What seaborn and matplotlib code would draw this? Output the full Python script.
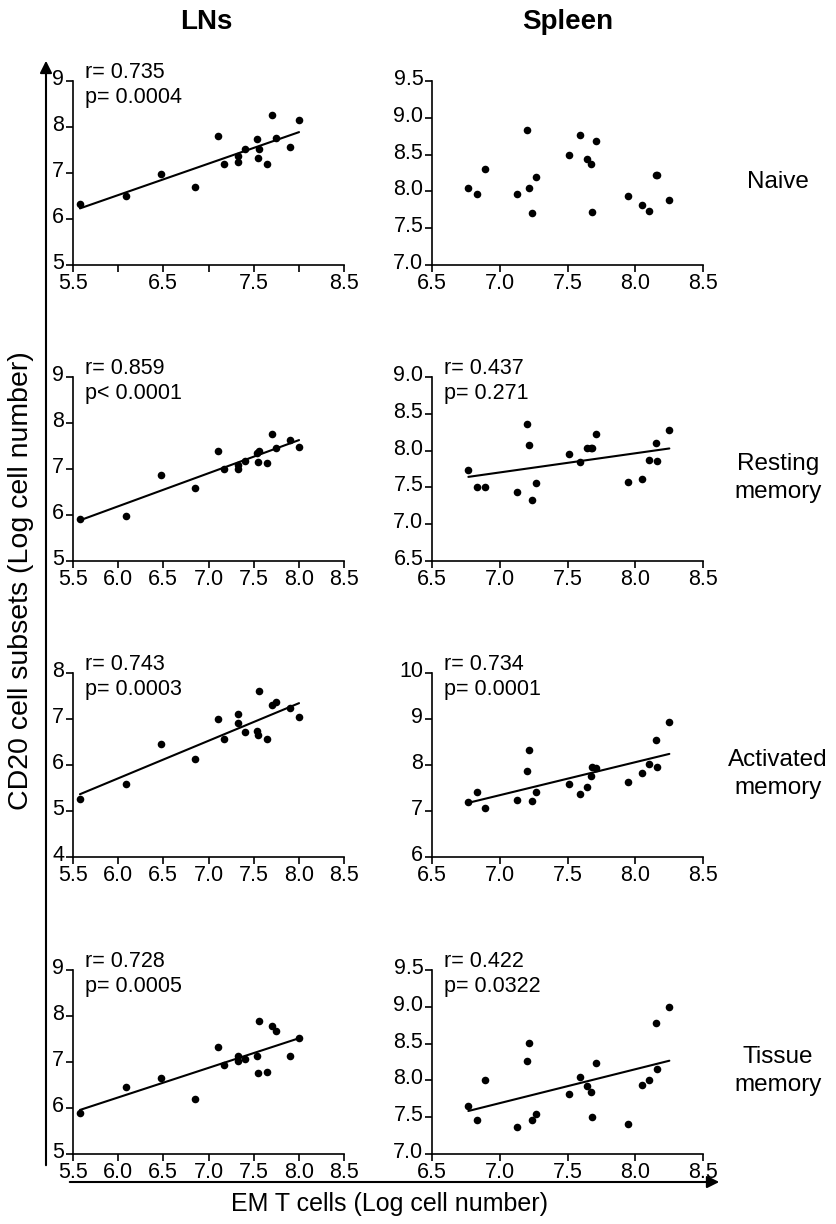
import numpy as np
import pandas as pd
import matplotlib
matplotlib.use("Agg")
import matplotlib.pyplot as plt
import matplotlib.transforms as mtransforms
import seaborn as sns

# ---------------- data ----------------
ln_x = [5.58, 6.085, 6.48, 6.85, 7.11, 7.17, 7.33, 7.33, 7.40, 7.54, 7.55, 7.56,
        7.65, 7.70, 7.75, 7.90, 8.00]
ln_naive = [6.33, 6.51, 6.97, 6.70, 7.80, 7.20, 7.36, 7.25, 7.53, 7.73, 7.32, 7.52,
            7.20, 8.27, 7.77, 7.57, 8.16]
ln_resting = [5.91, 5.97, 6.88, 6.59, 7.39, 7.00, 7.08, 7.00, 7.17, 7.35, 7.15, 7.40,
              7.12, 7.75, 7.45, 7.63, 7.47]
ln_activated = [5.25, 5.59, 6.46, 6.13, 6.99, 6.57, 7.10, 6.91, 6.71, 6.73, 6.66, 7.60,
                6.56, 7.31, 7.36, 7.24, 7.04]
ln_tissue = [5.89, 6.46, 6.66, 6.19, 7.33, 6.94, 7.12, 7.02, 7.07, 7.14, 6.77, 7.90,
             6.78, 7.79, 7.67, 7.14, 7.53]

sp_x = [6.77, 6.83, 6.89, 7.13, 7.20, 7.22, 7.24, 7.27, 7.51, 7.59, 7.64, 7.67,
        7.68, 7.71, 7.945, 8.05, 8.10, 8.15, 8.16, 8.25]
sp_naive = [8.04, 7.96, 8.30, 7.96, 8.83, 8.04, 7.70, 8.20, 8.50, 8.76, 8.44, 8.37,
            7.72, 8.69, 7.94, 7.82, 7.74, 8.22, 8.22, 7.88]
sp_resting = [7.74, 7.51, 7.50, 7.44, 8.36, 8.08, 7.33, 7.56, 7.96, 7.84, 8.03, 8.03,
              8.03, 8.22, 7.57, 7.61, 7.87, 8.11, 7.86, 8.28]
sp_activated = [7.19, 7.41, 7.06, 7.24, 7.87, 8.33, 7.21, 7.41, 7.59, 7.38, 7.53, 7.75,
                7.96, 7.93, 7.63, 7.82, 8.03, 8.55, 7.95, 8.93]
sp_tissue = [7.65, 7.46, 8.00, 7.37, 8.27, 8.51, 7.46, 7.54, 7.81, 8.04, 7.93, 7.84,
             7.50, 8.23, 7.41, 7.94, 8.00, 8.78, 8.15, 9.00]

row_labels = ["Naive", "Resting\nmemory", "Activated\nmemory", "Tissue\nmemory"]
col_titles = ["LNs", "Spleen"]
ln_stats = ["r= 0.735\np= 0.0004", "r= 0.859\np< 0.0001",
            "r= 0.743\np= 0.0003", "r= 0.728\np= 0.0005"]
sp_stats = [None, "r= 0.437\np= 0.271", "r= 0.734\np= 0.0001", "r= 0.422\np= 0.0322"]

ln_yticks = [[5, 6, 7, 8, 9], [5, 6, 7, 8, 9], [4, 5, 6, 7, 8], [5, 6, 7, 8, 9]]
sp_yticks = [[7.0, 7.5, 8.0, 8.5, 9.0, 9.5], [6.5, 7.0, 7.5, 8.0, 8.5, 9.0],
             [6, 7, 8, 9, 10], [7.0, 7.5, 8.0, 8.5, 9.0, 9.5]]
ln_xticks = [5.5, 6.0, 6.5, 7.0, 7.5, 8.0, 8.5]
sp_xticks = [6.5, 7.0, 7.5, 8.0, 8.5]

x_title = "EM T cells (Log cell number)"
y_title = "CD20 cell subsets (Log cell number)"

# ---------------- style ----------------
sns.set_theme(style="ticks")
plt.rcParams['font.family'] = ['Liberation Sans', 'DejaVu Sans']
plt.rcParams.update({
    'axes.linewidth': 1.2, 'axes.edgecolor': 'black', 'text.color': 'black',
    'axes.labelcolor': 'black', 'xtick.color': 'black', 'ytick.color': 'black',
})

W, H = 837, 1224
fig = plt.figure(figsize=(W / 100, H / 100), dpi=100)

row_top = [81, 377, 673, 970]
row_h = 184
ln_left, sp_left, ax_w = 72.7, 431.7, 271.6


def fmt(v, decimals):
    return f"{v:.{decimals}f}"


ln_sets = [ln_naive, ln_resting, ln_activated, ln_tissue]
sp_sets = [sp_naive, sp_resting, sp_activated, sp_tissue]
lift = mtransforms.ScaledTranslation(0, 4 / 100, fig.dpi_scale_trans)

for i in range(4):
    for j, (left, xs, ys, yt, xt, stat) in enumerate([
            (ln_left, ln_x, ln_sets[i], ln_yticks[i], ln_xticks, ln_stats[i]),
            (sp_left, sp_x, sp_sets[i], sp_yticks[i], sp_xticks, sp_stats[i])]):
        ax = fig.add_axes([left / W, 1 - (row_top[i] + row_h) / H, ax_w / W, row_h / H])
        df = pd.DataFrame({"x": xs, "y": ys})
        if stat is not None:
            sns.regplot(data=df, x="x", y="y", ax=ax, ci=None, color="black",
                        scatter_kws=dict(s=30, linewidths=0, alpha=1, clip_on=False,
                                         zorder=3),
                        line_kws=dict(lw=1.5, color="black"))
        else:
            sns.scatterplot(data=df, x="x", y="y", ax=ax, color="black", s=30,
                            linewidth=0, alpha=1, clip_on=False, zorder=3)
        ax.set_xlim(xt[0], xt[-1])
        ax.set_ylim(yt[0], yt[-1])
        ax.set_xticks(xt)
        ax.set_yticks(yt)
        if j == 0 and i == 0:
            ax.set_xticklabels([fmt(v, 1) if k % 2 == 0 else "" for k, v in enumerate(xt)])
        else:
            ax.set_xticklabels([fmt(v, 1) for v in xt])
        ydec = 1 if any(abs(v - round(v)) > 1e-9 for v in yt) else 0
        ax.set_yticklabels([fmt(v, ydec) for v in yt])
        ax.set_xlabel("")
        ax.set_ylabel("")
        sns.despine(ax=ax)
        ax.tick_params(direction="out", length=5, width=1.2, labelsize=15.5, pad=1,
                       colors="black")
        for lbl in ax.get_yticklabels():
            lbl.set_transform(lbl.get_transform() + lift)
        ax.grid(False)
        if stat is not None:
            ax.text(0.044, 1.105, stat, transform=ax.transAxes, ha="left", va="top",
                    fontsize=15.5, linespacing=1.3)

# column titles
fig.text(206 / W, 1 - 22 / H, col_titles[0], ha="center", va="center",
         fontsize=20, fontweight="bold")
fig.text(568 / W, 1 - 22 / H, col_titles[1], ha="center", va="center",
         fontsize=20, fontweight="bold")

# row labels
for i, lab in enumerate(row_labels):
    yc = row_top[i] + row_h / 2 + 9
    fig.text(778 / W, 1 - yc / H, lab, ha="center", va="center", fontsize=17.5,
             linespacing=1.35, multialignment="center")

# big arrows
fig.add_artist(matplotlib.patches.FancyArrowPatch(
    (46 / W, 1 - 1168 / H), (46 / W, 1 - 58 / H), transform=fig.transFigure,
    arrowstyle="-|>", mutation_scale=18, lw=1.5, color="black"))
fig.add_artist(matplotlib.patches.FancyArrowPatch(
    (67 / W, 1 - 1182 / H), (722 / W, 1 - 1182 / H), transform=fig.transFigure,
    arrowstyle="-|>", mutation_scale=18, lw=1.5, color="black"))

fig.text(390 / W, 1 - 1204 / H, x_title, ha="center", va="center", fontsize=18)
fig.text(21 / W, 1 - 581 / H, y_title, ha="center", va="center", fontsize=20.5,
         rotation=90)

fig.savefig("out.png", dpi=100, facecolor="white")
